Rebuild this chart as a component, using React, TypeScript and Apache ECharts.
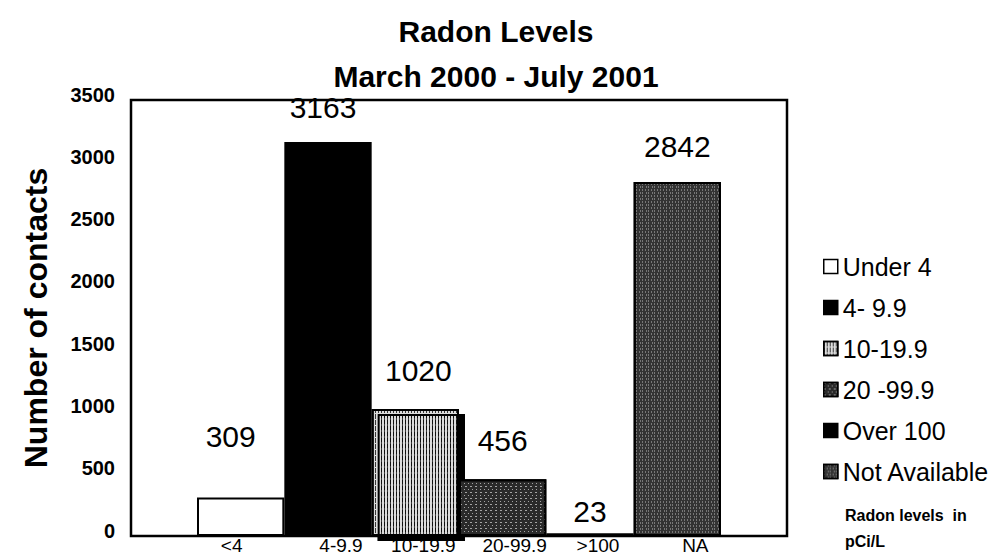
import React, { useEffect, useRef } from "react";
import * as echarts from "echarts";

const FONT = '"Liberation Sans", Arial, Helvetica, sans-serif';

// Data
const categories = ["<4", "4-9.9", "10-19.9", "20-99.9", ">100", "NA"];
const legendNames = ["Under 4", "4- 9.9", "10-19.9", "20 -99.9", "Over 100", "Not Available"];
const counts = [309, 3163, 1020, 456, 23, 2842];
const yMin = 0;
const yMax = 3500;
const yStep = 500;

// Styles (kept separate from data)
const labelDistance = [46, 19, 23, 24, 7, 20];
const labelOffsetX = [-10, -5, 3, 0, 0, 0];
const labelShift = [-18, 26, 16, 24, 16, 36];
const barStyles: any[] = [
  { color: "#ffffff", borderColor: "#000", borderWidth: 2 },
  { color: "#000000", borderColor: "#000", borderWidth: 2 },
  {
    color: "#dcdcdc",
    borderColor: "#000",
    borderWidth: 2,
    shadowColor: "#000",
    shadowBlur: 0,
    shadowOffsetX: 6,
    shadowOffsetY: 5,
    decal: {
      symbol: "rect",
      symbolSize: 1,
      color: "rgba(0,0,0,0.75)",
      dashArrayX: [1, 2],
      dashArrayY: [5, 1],
      rotation: 0,
    },
  },
  {
    color: "#2a2a2a",
    borderColor: "#000",
    borderWidth: 2,
    decal: {
      symbol: "rect",
      symbolSize: 1,
      color: "rgba(215,215,215,0.7)",
      dashArrayX: [[1, 3], [2, 3]],
      dashArrayY: [1, 2],
      rotation: 0,
    },
  },
  { color: "#000000", borderColor: "#000", borderWidth: 2 },
  {
    color: "#333333",
    borderColor: "#000",
    borderWidth: 2,
    decal: {
      symbol: "rect",
      symbolSize: 1,
      color: "rgba(220,220,220,0.4)",
      dashArrayX: [[1, 2], [1, 3, 1, 1]],
      dashArrayY: [2, 1],
      rotation: 0,
    },
  },
];

export default function App() {
  const ref = useRef<HTMLDivElement>(null);

  useEffect(() => {
    if (!ref.current) return;
    const chart = echarts.init(ref.current, null, { renderer: "svg" });

    const series = categories.map((_, i) => ({
      name: legendNames[i],
      type: "bar",
      stack: "all",
      barCategoryGap: "0%",
      data: counts.map((v, j) => (j === i ? v : "-")),
      itemStyle: barStyles[i],
      label: {
        show: true,
        position: "top",
        distance: labelDistance[i],
        offset: [labelOffsetX[i], 0],
        fontSize: 30,
        color: "#000",
        fontFamily: FONT,
      },
      emphasis: { disabled: true },
    }));

    chart.setOption({
      animation: false,
      backgroundColor: "#ffffff",
      title: [
        {
          text: "Radon Levels",
          left: 491,
          top: 11,
          textAlign: "center",
          textStyle: { fontSize: 30, fontWeight: "bold", color: "#000", fontFamily: FONT },
        },
        {
          text: "March 2000 - July 2001",
          left: 491,
          top: 56,
          textAlign: "center",
          textStyle: { fontSize: 30, fontWeight: "bold", color: "#000", fontFamily: FONT },
        },
        {
          text: "Radon levels  in\npCi/L",
          left: 840,
          top: 497,
          textStyle: {
            fontSize: 16,
            fontWeight: "bold",
            color: "#000",
            fontFamily: FONT,
            lineHeight: 26,
          },
        },
      ],
      legend: {
        orient: "vertical",
        left: 818,
        top: 249,
        itemWidth: 14,
        itemHeight: 14,
        itemGap: 16,
        itemTextGap: 11,
        icon: "rect",
        selectedMode: false,
        textStyle: { fontSize: 25, color: "#000", fontFamily: FONT },
        itemStyle: { borderColor: "#000", borderWidth: 1.5 },
        data: legendNames,
      },
      grid: { left: 197, right: 276, top: 100, bottom: 22 },
      xAxis: {
        type: "category",
        data: categories.map((c, i) => ({
          value: c,
          textStyle: {
            padding: [0, labelShift[i] < 0 ? -labelShift[i] : 0, 0, labelShift[i] > 0 ? labelShift[i] : 0],
          },
        })),
        axisLine: { show: false },
        axisTick: { show: false },
        axisLabel: {
          interval: 0,
          margin: 0,
          fontSize: 19,
          color: "#000",
          fontFamily: FONT,
        },
      },
      yAxis: {
        type: "value",
        min: yMin,
        max: yMax,
        interval: yStep,
        offset: 66,
        axisLine: { show: false },
        axisTick: { show: false },
        splitLine: { show: false },
        axisLabel: {
          margin: 16,
          fontSize: 20,
          fontWeight: "bold",
          color: "#000",
          fontFamily: FONT,
          verticalAlign: "bottom",
          lineHeight: 11,
          formatter: (v: number) => String(v),
        },
        name: "Number of contacts",
        nameLocation: "middle",
        nameGap: 79,
        nameTextStyle: { fontSize: 32, fontWeight: "bold", color: "#000", fontFamily: FONT },
      },
      graphic: [
        {
          type: "rect",
          silent: true,
          z: 100,
          shape: { x: 131, y: 100, width: 656, height: 436 },
          style: { fill: "none", stroke: "#000", lineWidth: 2.5 },
        },
      ],
      series,
    });

    return () => chart.dispose();
  }, []);

  return (
    <div
      ref={ref}
      style={{ position: "absolute", left: 0, top: 0, width: 997, height: 558, background: "#fff" }}
    />
  );
}
